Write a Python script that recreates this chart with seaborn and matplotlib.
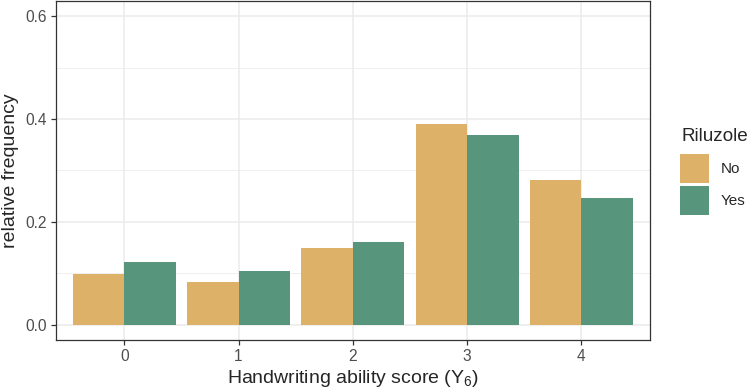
import numpy as np
import pandas as pd
import matplotlib
matplotlib.use("Agg")
import matplotlib.pyplot as plt
import seaborn as sns
from matplotlib.ticker import MultipleLocator

# datos
scores = ["0", "1", "2", "3", "4"]
freq_no = [0.098, 0.082, 0.149, 0.390, 0.282]
freq_yes = [0.122, 0.105, 0.160, 0.369, 0.246]
groups = ["No", "Yes"]
colores = {"No": "#DDB167", "Yes": "#57967C"}

df = pd.DataFrame({
    "score": scores * 2,
    "freq": freq_no + freq_yes,
    "Riluzole": ["No"] * len(scores) + ["Yes"] * len(scores),
})

sns.set_style("white")
plt.rcParams["font.family"] = ["Liberation Sans", "DejaVu Sans"]
plt.rcParams["mathtext.fontset"] = "custom"
plt.rcParams["mathtext.rm"] = "Liberation Sans"

fig = plt.figure(figsize=(7.5, 3.92), dpi=100)
ax = fig.add_axes([55.7 / 750, 1 - 340 / 392, (650 - 55.7) / 750, 339 / 392])

sns.barplot(data=df, x="score", y="freq", hue="Riluzole", order=scores,
            hue_order=groups, palette=colores, width=0.9, linewidth=0,
            saturation=1, ax=ax, zorder=3)

ax.set_xlim(-0.6, 4.6)
ax.set_ylim(-0.03, 0.63)
ax.yaxis.set_minor_locator(MultipleLocator(0.1))
ax.set_yticks([0.0, 0.2, 0.4, 0.6])
ax.set_yticklabels(["0.0", "0.2", "0.4", "0.6"])
ax.grid(which="major", color="#EBEBEB", linewidth=1.1, zorder=0)
ax.grid(which="minor", axis="y", color="#EBEBEB", linewidth=0.55, zorder=0)
ax.set_axisbelow(True)
for s in ax.spines.values():
    s.set_color("#333333")
    s.set_linewidth(0.9)
ax.tick_params(axis="both", which="major", length=3.5, width=0.9, color="#333333",
               labelsize=11.2, labelcolor="#4D4D4D", pad=3, left=True, bottom=True)
ax.tick_params(axis="both", which="minor", length=0)

ax.set_xlabel("Handwriting ability score ($\\mathregular{Y_6}$)", fontsize=14, labelpad=3)
ax.set_ylabel("relative frequency", fontsize=14)
ax.yaxis.set_label_coords(-0.062, 0.5)

# leyenda: título aparte para controlar el espacio
handles, labels = ax.get_legend_handles_labels()
ax.legend(handles, labels, loc="upper left",
          bbox_to_anchor=(680 / 750, 1 - 154 / 392), bbox_transform=fig.transFigure,
          frameon=False, borderpad=0, borderaxespad=0, fontsize=11,
          handlelength=1.9, handleheight=2.54,
          handletextpad=0.75, labelspacing=0.2)
fig.text(681.5 / 750, 1 - 141 / 392, "Riluzole", fontsize=13.6, ha="left",
         va="baseline")

fig.savefig("out.png", dpi=100)
